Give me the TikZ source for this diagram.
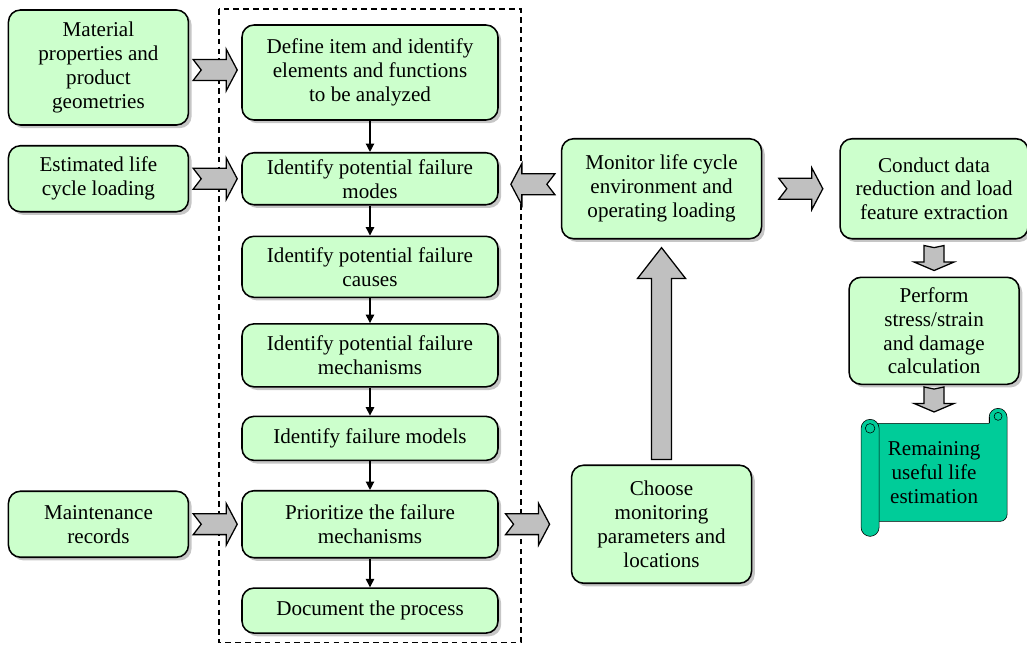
\documentclass[tikz,border=0pt]{standalone}
\usepackage{fontspec}
\setmainfont{Liberation Serif}
\usetikzlibrary{positioning,calc,shadows,arrows.meta,backgrounds}
\definecolor{boxgreen}{RGB}{204,255,204}
\definecolor{arrgray}{RGB}{192,192,192}
\definecolor{scrollgreen}{RGB}{0,204,153}
\tikzset{
  barrow/.pic={\draw[line width=0.9pt,fill=arrgray] (-0.55,-0.26) -- (0.275,-0.26) -- (0.275,-0.52) -- (0.55,0) -- (0.275,0.52) -- (0.275,0.26) -- (-0.55,0.26) -- (-0.35,0) -- cycle;},
  uarrow/.pic={\draw[line width=0.9pt,fill=arrgray] (-0.25,0.125) -- (-0.25,4.65) -- (-0.6,4.65) -- (0,5.42) -- (0.6,4.65) -- (0.25,4.65) -- (0.25,0.125) -- cycle;},
  darrow/.pic={\draw[line width=0.9pt,fill=arrgray] (-0.25,0.3125) -- (0,0.26) -- (0.25,0.3125) -- (0.25,-0.1) -- (0.5,-0.1) -- (0,-0.3125) -- (-0.5,-0.1) -- (-0.25,-0.1) -- cycle;}
}
\begin{document}
\begin{tikzpicture}
  [box/.style={draw,line width=1.1pt,rounded corners=0.3cm,fill=boxgreen,align=center,
     font=\rmfamily\fontsize{15}{17}\selectfont,inner sep=1pt,
     drop shadow={shadow xshift=0.08cm,shadow yshift=-0.08cm,opacity=0.45}},
   flow/.style={-{Triangle[length=6pt,width=6pt]},line width=0.9pt}]
  \useasboundingbox (0,0) rectangle (25.675,-16.2);
  \node[box,minimum width=6.4cm,minimum height=2.375cm] (def) at (9.25,-1.8125){Define item and identify\\elements and functions\\to be analyzed};
  \node[box,minimum width=6.4cm,minimum height=1.3cm] (modes)[below=0.78cm of def]{Identify potential failure\\modes};
  \node[box,minimum width=6.4cm,minimum height=1.525cm] (causes)[below=0.75cm of modes]{Identify potential failure\\causes};
  \node[box,minimum width=6.4cm,minimum height=1.575cm] (mech)[below=0.625cm of causes]{Identify potential failure\\mechanisms};
  \node[box,minimum width=6.4cm,minimum height=1.1cm] (models)[below=0.7cm of mech]{Identify failure models};
  \node[box,minimum width=6.4cm,minimum height=1.675cm] (prio)[below=0.72cm of models]{Prioritize the failure\\mechanisms};
  \node[box,minimum width=6.4cm,minimum height=1.125cm] (doc)[below=0.72cm of prio]{Document the process};
  \node[box,minimum width=4.5cm,minimum height=2.875cm] (mat)[left=1.3cm of def,yshift=0.125cm]{Material\\properties and\\product\\geometries};
  \node[box,minimum width=4.5cm,minimum height=1.65cm] (est)[left=1.3cm of modes]{Estimated life\\cycle loading};
  \node[box,minimum width=4.5cm,minimum height=1.65cm] (maint)[left=1.3cm of prio]{Maintenance\\records};
  \node[box,minimum width=5cm,minimum height=2.5cm] (monitor)[right=1.55cm of modes,yshift=-0.25cm]{Monitor life cycle\\environment and\\operating loading};
  \node[box,minimum width=4.5cm,minimum height=2.95cm] (choose)[right=1.8cm of prio]{Choose\\monitoring\\parameters and\\locations};
  \node[box,minimum width=4.7cm,minimum height=2.5cm] (conduct)[right=1.925cm of monitor]{Conduct data\\reduction and load\\feature extraction};
  \node[box,minimum width=4.25cm,minimum height=2.675cm] (perform)[below=0.925cm of conduct]{Perform\\stress/strain\\and damage\\calculation};
  \node[align=center,font=\rmfamily\fontsize{15}{17}\selectfont,minimum width=3.65cm,minimum height=3.15cm] (rul)[below=0.6cm of perform]{Remaining\\useful life\\estimation};
  \begin{scope}[on background layer,shift={(rul.center)},line width=1.1pt]
    \filldraw[fill=scrollgreen] (-1.5,1.225) -- (1.375,1.225) -- (1.375,1.375) arc[start angle=180,end angle=0,radius=0.225] -- (1.825,-1.05) arc[start angle=0,end angle=-90,radius=0.175] -- (-1.5,-1.225) -- cycle;
    \filldraw[fill=scrollgreen] (-1.825,1.1) -- (-1.825,-1.375) arc[start angle=180,end angle=360,radius=0.225] -- (-1.375,1.1) arc[start angle=0,end angle=180,radius=0.225] -- cycle;
    \draw (-1.6,1.1) circle[radius=0.12];
    \draw (1.6,1.4) circle[radius=0.1];
    \draw (1.375,1.375) -- (1.375,1.225);
  \end{scope}
  \draw[dash pattern=on 4pt off 3pt,line width=1.1pt] ($(def.north west)+(-0.55,0.375)$) rectangle ($(doc.south east)+(0.55,-0.22)$);
  \draw[flow] (def) -- (modes);
  \draw[flow] (modes) -- (causes);
  \draw[flow] (causes) -- (mech);
  \draw[flow] (mech) -- (models);
  \draw[flow] (models) -- (prio);
  \draw[flow] (prio) -- (doc);
  \pic at ($(mat.east)!0.5!(def.west)$) {barrow};
  \pic at ($(est.east)!0.5!(modes.west)$) {barrow};
  \pic at ($(maint.east)!0.5!(prio.west)$) {barrow};
  \pic[rotate=180] at ($(monitor.west)!0.45!(modes.east)$) {barrow};
  \pic at ($(prio.east)!0.4!(choose.west)$) {barrow};
  \pic at ($(monitor.east)!0.5!(conduct.west)$) {barrow};
  \pic at (choose.north) {uarrow};
  \pic at ($(conduct.south)!0.5!(perform.north)$) {darrow};
  \pic at ($(perform.south)!0.6!(rul.north)$) {darrow};
\end{tikzpicture}
\end{document}
